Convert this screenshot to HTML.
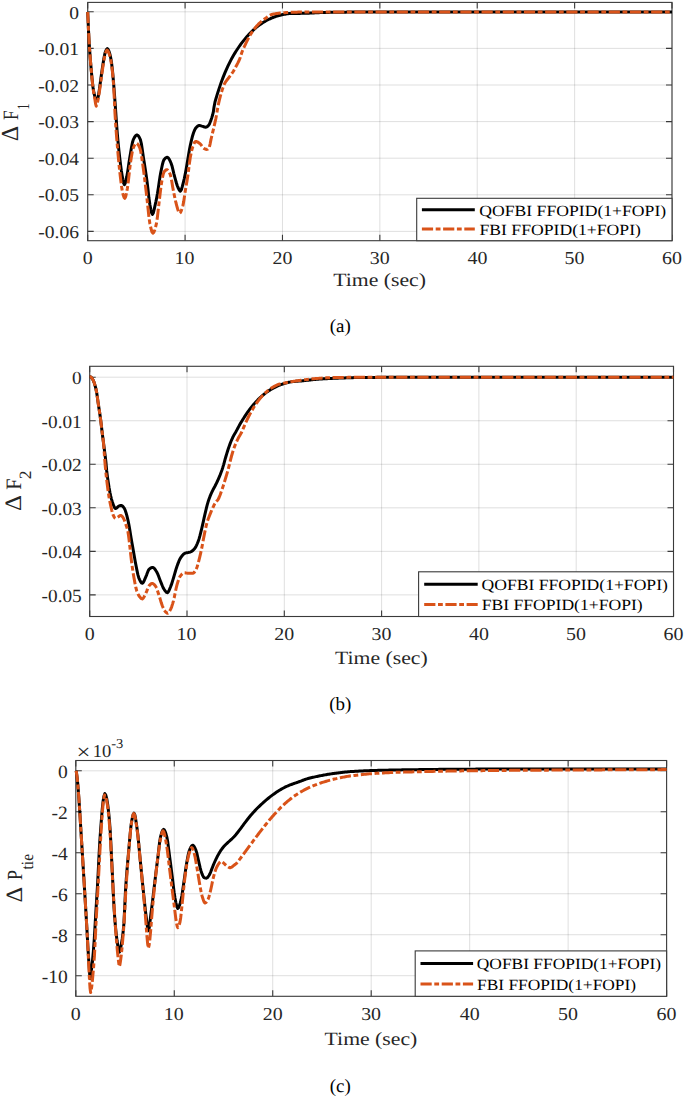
<!DOCTYPE html><html><head><meta charset="utf-8"><style>html,body{margin:0;padding:0;background:#fff;overflow:hidden;width:685px;height:1098px;}svg{display:block;} text{font-family:"Liberation Serif",serif;text-rendering:geometricPrecision;}</style></head><body>
<svg width="685" height="1098" viewBox="0 0 685 1098" font-family='"Liberation Serif", serif'>
<rect width="685" height="1098" fill="#fff"/>
<clipPath id="ca"><rect x="87.7" y="2.4" width="584.3" height="238.29999999999998"/></clipPath>
<path d="M87.70,2.4V240.7 M185.08,2.4V240.7 M282.47,2.4V240.7 M379.85,2.4V240.7 M477.23,2.4V240.7 M574.62,2.4V240.7 M672.00,2.4V240.7" stroke="#262626" stroke-opacity="0.15" stroke-width="1" fill="none"/>
<path d="M87.7,11.80H672.0 M87.7,48.40H672.0 M87.7,85.00H672.0 M87.7,121.60H672.0 M87.7,158.20H672.0 M87.7,194.80H672.0 M87.7,231.40H672.0" stroke="#262626" stroke-opacity="0.15" stroke-width="1" fill="none"/>
<path d="M87.70,240.7v-6.0 M87.70,2.4v6.0 M185.08,240.7v-6.0 M185.08,2.4v6.0 M282.47,240.7v-6.0 M282.47,2.4v6.0 M379.85,240.7v-6.0 M379.85,2.4v6.0 M477.23,240.7v-6.0 M477.23,2.4v6.0 M574.62,240.7v-6.0 M574.62,2.4v6.0 M672.00,240.7v-6.0 M672.00,2.4v6.0 M87.7,11.80h6.0 M672.0,11.80h-6.0 M87.7,48.40h6.0 M672.0,48.40h-6.0 M87.7,85.00h6.0 M672.0,85.00h-6.0 M87.7,121.60h6.0 M672.0,121.60h-6.0 M87.7,158.20h6.0 M672.0,158.20h-6.0 M87.7,194.80h6.0 M672.0,194.80h-6.0 M87.7,231.40h6.0 M672.0,231.40h-6.0" stroke="#3a3a3a" stroke-width="1.1" fill="none"/>
<rect x="87.7" y="2.4" width="584.3" height="238.29999999999998" stroke="#3a3a3a" stroke-width="1.1" fill="none"/>
<g >
<path d="M87.70,12.00 L88.10,21.30 L88.50,30.10 L89.00,39.73 L89.50,48.10 L90.25,58.37 L91.00,67.20 L92.00,78.35 L93.00,87.20 L94.00,93.14 L95.00,97.20 L95.90,99.70 L96.80,100.90 L97.65,99.00 L98.50,95.20 L99.50,88.81 L100.50,81.20 L101.33,75.33 L102.17,69.50 L103.00,64.10 L104.00,57.81 L105.00,53.10 L105.77,50.94 L106.53,49.27 L107.30,48.60 L108.07,49.28 L108.83,50.97 L109.60,53.10 L110.60,57.14 L111.60,63.10 L112.60,71.95 L113.60,83.20 L114.60,96.05 L115.60,110.00 L116.45,122.27 L117.30,133.70 L118.10,142.49 L118.90,150.32 L119.70,157.40 L120.50,164.09 L121.30,170.21 L122.10,175.20 L122.87,179.47 L123.63,183.14 L124.40,184.70 L125.20,183.33 L126.00,180.13 L126.80,176.40 L127.55,172.36 L128.30,167.36 L129.05,162.13 L129.80,157.40 L130.68,152.17 L131.55,146.92 L132.43,142.46 L133.30,139.60 L134.20,137.84 L135.10,136.38 L136.00,135.37 L136.90,135.00 L137.78,135.36 L138.65,136.34 L139.53,137.80 L140.40,139.60 L141.40,143.80 L142.40,150.50 L143.40,157.40 L144.30,163.02 L145.20,168.76 L146.10,174.74 L147.00,181.10 L147.97,189.30 L148.93,198.06 L149.90,204.80 L150.77,209.23 L151.63,212.88 L152.50,214.40 L153.40,212.75 L154.30,208.96 L155.20,204.80 L155.97,201.35 L156.73,197.47 L157.50,193.30 L158.30,188.32 L159.10,182.78 L159.90,177.37 L160.70,172.80 L161.52,168.67 L162.35,164.75 L163.18,161.58 L164.00,159.70 L164.82,158.72 L165.65,157.93 L166.48,157.39 L167.30,157.20 L168.23,157.72 L169.15,159.08 L170.07,160.94 L171.00,163.00 L171.93,165.72 L172.85,169.37 L173.77,173.31 L174.70,176.90 L175.52,179.84 L176.35,182.78 L177.18,185.43 L178.00,187.50 L178.80,189.19 L179.60,190.60 L180.40,191.20 L181.37,189.75 L182.33,186.39 L183.30,182.60 L184.23,178.79 L185.17,174.34 L186.10,169.50 L186.90,164.85 L187.70,160.00 L188.57,154.85 L189.43,149.79 L190.30,145.30 L191.30,140.80 L192.30,136.78 L193.30,133.50 L194.10,131.30 L194.90,129.41 L195.70,128.10 L196.57,127.13 L197.45,126.30 L198.32,125.72 L199.20,125.50 L200.10,125.60 L201.00,125.83 L201.90,126.13 L202.80,126.40 L203.77,126.72 L204.73,127.05 L205.70,127.20 L206.70,126.92 L207.70,126.19 L208.70,125.20 L209.47,123.94 L210.23,122.03 L211.00,119.90 L211.80,117.63 L212.60,114.99 L213.40,111.60 L213.95,107.49 L215.00,101.94 L216.00,98.48 L217.00,95.14 L218.00,91.93 L219.00,88.84 L220.00,85.87 L221.00,83.01 L222.00,80.27 L223.00,77.63 L224.00,75.09 L225.00,72.65 L226.00,70.31 L227.00,68.06 L228.00,65.89 L229.00,63.81 L230.00,61.81 L231.00,59.89 L232.00,58.03 L233.00,56.25 L234.00,54.53 L235.00,52.87 L236.00,51.26 L237.00,49.71 L238.00,48.21 L239.00,46.76 L240.00,45.34 L241.00,43.96 L242.00,42.63 L243.00,41.33 L244.00,40.07 L245.00,38.85 L246.00,37.66 L247.00,36.51 L248.00,35.39 L249.00,34.31 L250.00,33.27 L251.00,32.26 L252.00,31.28 L253.00,30.34 L254.00,29.42 L255.00,28.54 L256.00,27.69 L257.00,26.88 L258.00,26.09 L259.00,25.33 L260.00,24.60 L261.00,23.90 L262.00,23.22 L263.00,22.58 L264.00,21.96 L265.00,21.37 L266.00,20.80 L267.00,20.26 L268.00,19.74 L269.00,19.25 L270.00,18.78 L271.00,18.33 L272.00,17.91 L273.00,17.51 L274.00,17.13 L275.00,16.77 L276.00,16.43 L277.00,16.11 L278.00,15.81 L279.00,15.52 L280.00,15.26 L281.00,15.02 L282.00,14.79 L283.00,14.57 L284.00,14.38 L285.00,14.20 L286.00,14.03 L287.00,13.88 L288.00,13.74 L289.00,13.61 L290.00,13.50 L291.00,13.49 L292.00,13.48 L293.00,13.46 L294.00,13.45 L295.00,13.44 L296.00,13.43 L297.00,13.42 L298.00,13.41 L299.00,13.40 L300.00,13.38 L301.00,13.37 L302.00,13.35 L303.00,13.34 L304.00,13.32 L305.00,13.30 L306.00,13.27 L307.00,13.24 L308.00,13.20 L309.00,13.15 L310.00,13.10 L311.00,13.05 L312.00,12.99 L313.00,12.94 L314.00,12.88 L315.00,12.82 L316.00,12.77 L317.00,12.72 L318.00,12.67 L319.00,12.63 L320.00,12.60 L321.00,12.57 L322.00,12.54 L323.00,12.52 L324.00,12.49 L325.00,12.47 L326.00,12.44 L327.00,12.42 L328.00,12.40 L329.00,12.38 L330.00,12.36 L331.00,12.34 L332.00,12.32 L333.00,12.30 L334.00,12.29 L335.00,12.27 L336.00,12.25 L337.00,12.24 L338.00,12.23 L339.00,12.21 L340.00,12.20 L341.00,12.19 L342.00,12.18 L343.00,12.16 L344.00,12.15 L345.00,12.14 L346.00,12.13 L347.00,12.12 L348.00,12.11 L349.00,12.10 L350.00,12.09 L351.00,12.08 L352.00,12.07 L353.00,12.06 L354.00,12.05 L355.00,12.04 L356.00,12.03 L357.00,12.02 L358.00,12.01 L359.00,12.00 L360.00,12.00 L361.00,11.99 L362.00,11.98 L363.00,11.98 L364.00,11.97 L365.00,11.97 L366.00,11.96 L367.00,11.96 L368.00,11.96 L369.00,11.95 L370.00,11.95 L371.00,11.95 L372.00,11.95 L373.00,11.94 L374.00,11.94 L375.00,11.94 L376.00,11.94 L377.00,11.94 L378.00,11.94 L379.00,11.93 L380.00,11.93 L381.00,11.93 L382.00,11.93 L383.00,11.93 L384.00,11.93 L385.00,11.93 L386.00,11.92 L387.00,11.92 L388.00,11.92 L389.00,11.92 L390.00,11.92 L391.00,11.92 L392.00,11.92 L393.00,11.92 L394.00,11.91 L395.00,11.91 L396.00,11.91 L397.00,11.91 L398.00,11.91 L399.00,11.91 L400.00,11.91 L401.00,11.91 L402.00,11.91 L403.00,11.91 L404.00,11.91 L405.00,11.90 L406.00,11.90 L407.00,11.90 L408.00,11.90 L409.00,11.90 L410.00,11.90 L411.00,11.90 L412.00,11.90 L413.00,11.90 L414.00,11.90 L415.00,11.90 L416.00,11.90 L417.00,11.90 L418.00,11.90 L419.00,11.90 L420.00,11.90 L421.00,11.90 L422.00,11.90 L423.00,11.90 L424.00,11.90 L425.00,11.90 L426.00,11.90 L427.00,11.90 L428.00,11.90 L429.00,11.90 L430.00,11.90 L431.00,11.90 L432.00,11.90 L433.00,11.90 L434.00,11.90 L435.00,11.90 L436.00,11.90 L437.00,11.90 L438.00,11.90 L439.00,11.90 L440.00,11.90 L441.00,11.90 L442.00,11.90 L443.00,11.90 L444.00,11.90 L445.00,11.90 L446.00,11.90 L447.00,11.90 L448.00,11.90 L449.00,11.90 L450.00,11.90 L451.00,11.90 L452.00,11.90 L453.00,11.90 L454.00,11.90 L455.00,11.90 L456.00,11.90 L457.00,11.90 L458.00,11.90 L459.00,11.90 L460.00,11.90 L461.00,11.90 L462.00,11.90 L463.00,11.90 L464.00,11.90 L465.00,11.90 L466.00,11.90 L467.00,11.90 L468.00,11.90 L469.00,11.90 L470.00,11.90 L471.00,11.90 L472.00,11.90 L473.00,11.90 L474.00,11.90 L475.00,11.90 L476.00,11.90 L477.00,11.90 L478.00,11.90 L479.00,11.90 L480.00,11.90 L481.00,11.90 L482.00,11.90 L483.00,11.90 L484.00,11.90 L485.00,11.90 L486.00,11.90 L487.00,11.90 L488.00,11.90 L489.00,11.90 L490.00,11.90 L491.00,11.90 L492.00,11.90 L493.00,11.90 L494.00,11.90 L495.00,11.90 L496.00,11.90 L497.00,11.90 L498.00,11.90 L499.00,11.90 L500.00,11.90 L501.00,11.90 L502.00,11.90 L503.00,11.90 L504.00,11.90 L505.00,11.90 L506.00,11.90 L507.00,11.90 L508.00,11.90 L509.00,11.90 L510.00,11.90 L511.00,11.90 L512.00,11.90 L513.00,11.90 L514.00,11.90 L515.00,11.90 L516.00,11.90 L517.00,11.90 L518.00,11.90 L519.00,11.90 L520.00,11.90 L521.00,11.90 L522.00,11.90 L523.00,11.90 L524.00,11.90 L525.00,11.90 L526.00,11.90 L527.00,11.90 L528.00,11.90 L529.00,11.90 L530.00,11.90 L531.00,11.90 L532.00,11.90 L533.00,11.90 L534.00,11.90 L535.00,11.90 L536.00,11.90 L537.00,11.90 L538.00,11.90 L539.00,11.90 L540.00,11.90 L541.00,11.90 L542.00,11.90 L543.00,11.90 L544.00,11.90 L545.00,11.90 L546.00,11.90 L547.00,11.90 L548.00,11.90 L549.00,11.90 L550.00,11.90 L551.00,11.90 L552.00,11.90 L553.00,11.90 L554.00,11.90 L555.00,11.90 L556.00,11.90 L557.00,11.90 L558.00,11.90 L559.00,11.90 L560.00,11.90 L561.00,11.90 L562.00,11.90 L563.00,11.90 L564.00,11.90 L565.00,11.90 L566.00,11.90 L567.00,11.90 L568.00,11.90 L569.00,11.90 L570.00,11.90 L571.00,11.90 L572.00,11.90 L573.00,11.90 L574.00,11.90 L575.00,11.90 L576.00,11.90 L577.00,11.90 L578.00,11.90 L579.00,11.90 L580.00,11.90 L581.00,11.90 L582.00,11.90 L583.00,11.90 L584.00,11.90 L585.00,11.90 L586.00,11.90 L587.00,11.90 L588.00,11.90 L589.00,11.90 L590.00,11.90 L591.00,11.90 L592.00,11.90 L593.00,11.90 L594.00,11.90 L595.00,11.90 L596.00,11.90 L597.00,11.90 L598.00,11.90 L599.00,11.90 L600.00,11.90 L601.00,11.90 L602.00,11.90 L603.00,11.90 L604.00,11.90 L605.00,11.90 L606.00,11.90 L607.00,11.90 L608.00,11.90 L609.00,11.90 L610.00,11.90 L611.00,11.90 L612.00,11.90 L613.00,11.90 L614.00,11.90 L615.00,11.90 L616.00,11.90 L617.00,11.90 L618.00,11.90 L619.00,11.90 L620.00,11.90 L621.00,11.90 L622.00,11.90 L623.00,11.90 L624.00,11.90 L625.00,11.90 L626.00,11.90 L627.00,11.90 L628.00,11.90 L629.00,11.90 L630.00,11.90 L631.00,11.90 L632.00,11.90 L633.00,11.90 L634.00,11.90 L635.00,11.90 L636.00,11.90 L637.00,11.90 L638.00,11.90 L639.00,11.90 L640.00,11.90 L641.00,11.90 L642.00,11.90 L643.00,11.90 L644.00,11.90 L645.00,11.90 L646.00,11.90 L647.00,11.90 L648.00,11.90 L649.00,11.90 L650.00,11.90 L651.00,11.90 L652.00,11.90 L653.00,11.90 L654.00,11.90 L655.00,11.90 L656.00,11.90 L657.00,11.90 L658.00,11.90 L659.00,11.90 L660.00,11.90 L661.00,11.90 L662.00,11.90 L663.00,11.90 L664.00,11.90 L665.00,11.90 L666.00,11.90 L667.00,11.90 L668.00,11.90 L669.00,11.90 L670.00,11.90 L671.00,11.90 L672.00,11.90" stroke="#000" stroke-width="3.0" fill="none" stroke-linejoin="round"/>
<path d="M87.70,12.00 L88.10,21.30 L88.50,30.10 L89.00,39.73 L89.50,48.10 L90.25,58.32 L91.00,67.20 L92.00,78.57 L93.00,88.00 L94.00,94.52 L95.00,100.00 L95.60,103.93 L96.20,106.20 L97.10,104.09 L98.00,100.00 L98.83,95.47 L99.67,89.84 L100.50,84.00 L101.33,77.97 L102.17,71.71 L103.00,66.00 L104.00,59.78 L105.00,55.00 L105.70,52.67 L106.40,50.78 L107.10,50.00 L107.93,50.76 L108.77,52.63 L109.60,55.00 L110.60,59.06 L111.60,65.00 L112.60,73.24 L113.60,85.00 L114.30,98.76 L115.00,113.60 L115.77,125.56 L116.53,136.03 L117.30,145.50 L118.30,156.97 L119.30,167.38 L120.30,176.40 L121.10,182.97 L121.90,188.84 L122.70,193.00 L123.40,195.55 L124.10,197.58 L124.80,198.40 L125.67,196.77 L126.53,192.88 L127.40,188.20 L128.40,180.83 L129.40,171.46 L130.40,163.30 L131.37,157.05 L132.33,151.55 L133.30,147.90 L134.30,145.60 L135.30,143.88 L136.30,143.20 L137.18,143.58 L138.05,144.60 L138.93,146.09 L139.80,147.90 L140.70,151.17 L141.60,156.43 L142.50,162.75 L143.40,169.20 L144.30,175.91 L145.20,183.37 L146.10,191.17 L147.00,198.90 L147.97,207.94 L148.93,217.08 L149.90,223.70 L150.90,228.22 L151.90,231.77 L152.90,233.20 L153.78,232.39 L154.65,230.26 L155.53,227.22 L156.40,223.70 L157.30,218.08 L158.20,210.18 L159.10,202.30 L159.93,195.31 L160.77,188.34 L161.60,182.60 L162.40,178.09 L163.20,174.23 L164.00,172.00 L164.97,170.81 L165.93,170.00 L166.90,169.70 L167.72,170.09 L168.55,171.13 L169.38,172.63 L170.20,174.40 L171.00,177.25 L171.80,181.58 L172.60,186.42 L173.40,190.80 L174.22,194.82 L175.05,198.81 L175.88,202.49 L176.70,205.60 L177.67,209.02 L178.63,212.02 L179.60,213.30 L180.43,212.63 L181.25,210.88 L182.07,208.41 L182.90,205.60 L183.70,201.60 L184.50,196.16 L185.30,190.80 L186.13,185.98 L186.97,181.25 L187.80,176.10 L188.60,170.05 L189.40,163.50 L190.20,158.00 L191.03,153.58 L191.87,149.80 L192.70,147.00 L193.70,144.37 L194.70,142.26 L195.70,141.40 L196.52,141.52 L197.34,141.86 L198.16,142.34 L198.98,142.91 L199.80,143.50 L200.62,144.30 L201.44,145.40 L202.26,146.57 L203.08,147.61 L203.90,148.30 L204.90,148.83 L205.90,149.24 L206.90,149.40 L207.70,149.10 L208.50,148.28 L209.30,147.10 L210.15,143.83 L211.00,139.40 L211.80,135.99 L212.60,132.67 L213.40,129.30 L214.20,125.89 L215.00,122.42 L215.80,118.70 L216.70,113.83 L217.60,108.60 L218.50,103.90 L219.47,99.67 L220.43,95.87 L221.40,92.50 L222.22,89.86 L223.05,87.38 L223.88,85.19 L224.70,83.40 L225.52,82.01 L226.34,80.84 L227.16,79.79 L227.98,78.78 L228.80,77.70 L229.62,76.59 L230.44,75.50 L231.26,74.39 L232.08,73.24 L232.90,72.00 L233.70,70.66 L234.50,69.22 L235.30,67.72 L236.10,66.20 L236.93,64.68 L237.75,63.16 L238.57,61.53 L239.40,59.70 L240.23,57.39 L241.07,54.76 L241.90,52.30 L242.60,50.47 L243.30,48.75 L244.20,46.86 L245.20,44.82 L246.20,42.72 L247.20,40.64 L248.20,38.67 L249.20,36.81 L250.20,35.07 L251.20,33.43 L252.20,31.89 L253.20,30.44 L254.20,29.09 L255.20,27.81 L256.20,26.61 L257.20,25.49 L258.20,24.43 L259.20,23.43 L260.20,22.49 L261.20,21.59 L262.20,20.75 L263.20,19.95 L264.20,19.20 L266.00,17.96 L266.95,17.34 L267.90,16.67 L268.85,15.99 L269.80,15.37 L270.75,14.85 L271.70,14.50 L272.63,14.26 L273.56,14.05 L274.49,13.86 L275.42,13.69 L276.35,13.54 L277.28,13.41 L278.21,13.29 L279.14,13.18 L280.07,13.09 L281.00,13.00 L282.00,12.92 L283.00,12.83 L284.00,12.76 L285.00,12.69 L286.00,12.62 L287.00,12.56 L288.00,12.50 L289.00,12.44 L290.00,12.39 L291.00,12.35 L292.00,12.30 L293.00,12.27 L294.00,12.23 L295.00,12.20 L296.00,12.17 L297.00,12.15 L298.00,12.12 L299.00,12.10 L300.00,12.08 L301.00,12.06 L302.00,12.04 L303.00,12.02 L304.00,12.01 L305.00,12.00 L306.00,11.99 L307.00,11.98 L308.00,11.97 L309.00,11.96 L310.00,11.95 L311.00,11.94 L312.00,11.93 L313.00,11.93 L314.00,11.92 L315.00,11.91 L316.00,11.91 L317.00,11.91 L318.00,11.90 L319.00,11.90 L320.00,11.90 L321.00,11.90 L322.00,11.90 L323.00,11.90 L324.00,11.90 L325.00,11.90 L326.00,11.90 L327.00,11.90 L328.00,11.90 L329.00,11.90 L330.00,11.90 L331.00,11.90 L332.00,11.90 L333.00,11.90 L334.00,11.90 L335.00,11.90 L336.00,11.90 L337.00,11.90 L338.00,11.90 L339.00,11.90 L340.00,11.90 L341.00,11.90 L342.00,11.90 L343.00,11.90 L344.00,11.90 L345.00,11.90 L346.00,11.90 L347.00,11.90 L348.00,11.90 L349.00,11.90 L350.00,11.90 L351.00,11.90 L352.00,11.90 L353.00,11.90 L354.00,11.90 L355.00,11.90 L356.00,11.90 L357.00,11.90 L358.00,11.90 L359.00,11.90 L360.00,11.90 L361.00,11.90 L362.00,11.90 L363.00,11.90 L364.00,11.90 L365.00,11.90 L366.00,11.90 L367.00,11.90 L368.00,11.90 L369.00,11.90 L370.00,11.90 L371.00,11.90 L372.00,11.90 L373.00,11.90 L374.00,11.90 L375.00,11.90 L376.00,11.90 L377.00,11.90 L378.00,11.90 L379.00,11.90 L380.00,11.90 L381.00,11.90 L382.00,11.90 L383.00,11.90 L384.00,11.90 L385.00,11.90 L386.00,11.90 L387.00,11.90 L388.00,11.90 L389.00,11.90 L390.00,11.90 L391.00,11.90 L392.00,11.90 L393.00,11.90 L394.00,11.90 L395.00,11.90 L396.00,11.90 L397.00,11.90 L398.00,11.90 L399.00,11.90 L400.00,11.90 L401.00,11.90 L402.00,11.90 L403.00,11.90 L404.00,11.90 L405.00,11.90 L406.00,11.90 L407.00,11.90 L408.00,11.90 L409.00,11.90 L410.00,11.90 L411.00,11.90 L412.00,11.90 L413.00,11.90 L414.00,11.90 L415.00,11.90 L416.00,11.90 L417.00,11.90 L418.00,11.90 L419.00,11.90 L420.00,11.90 L421.00,11.90 L422.00,11.90 L423.00,11.90 L424.00,11.90 L425.00,11.90 L426.00,11.90 L427.00,11.90 L428.00,11.90 L429.00,11.90 L430.00,11.90 L431.00,11.90 L432.00,11.90 L433.00,11.90 L434.00,11.90 L435.00,11.90 L436.00,11.90 L437.00,11.90 L438.00,11.90 L439.00,11.90 L440.00,11.90 L441.00,11.90 L442.00,11.90 L443.00,11.90 L444.00,11.90 L445.00,11.90 L446.00,11.90 L447.00,11.90 L448.00,11.90 L449.00,11.90 L450.00,11.90 L451.00,11.90 L452.00,11.90 L453.00,11.90 L454.00,11.90 L455.00,11.90 L456.00,11.90 L457.00,11.90 L458.00,11.90 L459.00,11.90 L460.00,11.90 L461.00,11.90 L462.00,11.90 L463.00,11.90 L464.00,11.90 L465.00,11.90 L466.00,11.90 L467.00,11.90 L468.00,11.90 L469.00,11.90 L470.00,11.90 L471.00,11.90 L472.00,11.90 L473.00,11.90 L474.00,11.90 L475.00,11.90 L476.00,11.90 L477.00,11.90 L478.00,11.90 L479.00,11.90 L480.00,11.90 L481.00,11.90 L482.00,11.90 L483.00,11.90 L484.00,11.90 L485.00,11.90 L486.00,11.90 L487.00,11.90 L488.00,11.90 L489.00,11.90 L490.00,11.90 L491.00,11.90 L492.00,11.90 L493.00,11.90 L494.00,11.90 L495.00,11.90 L496.00,11.90 L497.00,11.90 L498.00,11.90 L499.00,11.90 L500.00,11.90 L501.00,11.90 L502.00,11.90 L503.00,11.90 L504.00,11.90 L505.00,11.90 L506.00,11.90 L507.00,11.90 L508.00,11.90 L509.00,11.90 L510.00,11.90 L511.00,11.90 L512.00,11.90 L513.00,11.90 L514.00,11.90 L515.00,11.90 L516.00,11.90 L517.00,11.90 L518.00,11.90 L519.00,11.90 L520.00,11.90 L521.00,11.90 L522.00,11.90 L523.00,11.90 L524.00,11.90 L525.00,11.90 L526.00,11.90 L527.00,11.90 L528.00,11.90 L529.00,11.90 L530.00,11.90 L531.00,11.90 L532.00,11.90 L533.00,11.90 L534.00,11.90 L535.00,11.90 L536.00,11.90 L537.00,11.90 L538.00,11.90 L539.00,11.90 L540.00,11.90 L541.00,11.90 L542.00,11.90 L543.00,11.90 L544.00,11.90 L545.00,11.90 L546.00,11.90 L547.00,11.90 L548.00,11.90 L549.00,11.90 L550.00,11.90 L551.00,11.90 L552.00,11.90 L553.00,11.90 L554.00,11.90 L555.00,11.90 L556.00,11.90 L557.00,11.90 L558.00,11.90 L559.00,11.90 L560.00,11.90 L561.00,11.90 L562.00,11.90 L563.00,11.90 L564.00,11.90 L565.00,11.90 L566.00,11.90 L567.00,11.90 L568.00,11.90 L569.00,11.90 L570.00,11.90 L571.00,11.90 L572.00,11.90 L573.00,11.90 L574.00,11.90 L575.00,11.90 L576.00,11.90 L577.00,11.90 L578.00,11.90 L579.00,11.90 L580.00,11.90 L581.00,11.90 L582.00,11.90 L583.00,11.90 L584.00,11.90 L585.00,11.90 L586.00,11.90 L587.00,11.90 L588.00,11.90 L589.00,11.90 L590.00,11.90 L591.00,11.90 L592.00,11.90 L593.00,11.90 L594.00,11.90 L595.00,11.90 L596.00,11.90 L597.00,11.90 L598.00,11.90 L599.00,11.90 L600.00,11.90 L601.00,11.90 L602.00,11.90 L603.00,11.90 L604.00,11.90 L605.00,11.90 L606.00,11.90 L607.00,11.90 L608.00,11.90 L609.00,11.90 L610.00,11.90 L611.00,11.90 L612.00,11.90 L613.00,11.90 L614.00,11.90 L615.00,11.90 L616.00,11.90 L617.00,11.90 L618.00,11.90 L619.00,11.90 L620.00,11.90 L621.00,11.90 L622.00,11.90 L623.00,11.90 L624.00,11.90 L625.00,11.90 L626.00,11.90 L627.00,11.90 L628.00,11.90 L629.00,11.90 L630.00,11.90 L631.00,11.90 L632.00,11.90 L633.00,11.90 L634.00,11.90 L635.00,11.90 L636.00,11.90 L637.00,11.90 L638.00,11.90 L639.00,11.90 L640.00,11.90 L641.00,11.90 L642.00,11.90 L643.00,11.90 L644.00,11.90 L645.00,11.90 L646.00,11.90 L647.00,11.90 L648.00,11.90 L649.00,11.90 L650.00,11.90 L651.00,11.90 L652.00,11.90 L653.00,11.90 L654.00,11.90 L655.00,11.90 L656.00,11.90 L657.00,11.90 L658.00,11.90 L659.00,11.90 L660.00,11.90 L661.00,11.90 L662.00,11.90 L663.00,11.90 L664.00,11.90 L665.00,11.90 L666.00,11.90 L667.00,11.90 L668.00,11.90 L669.00,11.90 L670.00,11.90 L671.00,11.90 L672.00,11.90" stroke="#D95319" stroke-width="3.0" fill="none" stroke-dasharray="11.2 2.6 4.8 2.6" stroke-linejoin="round"/>
</g>
<text transform="translate(69.23,18.50) scale(1.0850,1.0000)" font-size="18.0" fill="#262626">0</text>
<text transform="translate(38.32,55.05) scale(1.0850,1.0000)" font-size="18.0" fill="#262626">-0.01</text>
<text transform="translate(38.32,91.65) scale(1.0850,1.0000)" font-size="18.0" fill="#262626">-0.02</text>
<text transform="translate(38.32,128.25) scale(1.0850,1.0000)" font-size="18.0" fill="#262626">-0.03</text>
<text transform="translate(38.32,164.85) scale(1.0850,1.0000)" font-size="18.0" fill="#262626">-0.04</text>
<text transform="translate(38.32,201.45) scale(1.0850,1.0000)" font-size="18.0" fill="#262626">-0.05</text>
<text transform="translate(38.32,238.05) scale(1.0850,1.0000)" font-size="18.0" fill="#262626">-0.06</text>
<text transform="translate(82.71,264.07) scale(1.0900,1.0000)" font-size="18.3" fill="#262626">0</text>
<text transform="translate(174.61,264.07) scale(1.0900,1.0000)" font-size="18.3" fill="#262626">10</text>
<text transform="translate(272.44,264.07) scale(1.0900,1.0000)" font-size="18.3" fill="#262626">20</text>
<text transform="translate(369.78,264.07) scale(1.0900,1.0000)" font-size="18.3" fill="#262626">30</text>
<text transform="translate(467.43,264.07) scale(1.0900,1.0000)" font-size="18.3" fill="#262626">40</text>
<text transform="translate(564.44,264.07) scale(1.0900,1.0000)" font-size="18.3" fill="#262626">50</text>
<text transform="translate(661.98,264.07) scale(1.0900,1.0000)" font-size="18.3" fill="#262626">60</text>
<text transform="translate(333.25,286.37) scale(1.1560,1.0000)" font-size="18.8" fill="#262626">Time (sec)</text>
<rect x="416.7" y="198.3" width="255.3" height="42.39999999999998" fill="#fff" stroke="#3a3a3a" stroke-width="1.1"/>
<path d="M421.9,209.8H474.8" stroke="#000" stroke-width="3.0"/>
<path d="M421.9,228.9H474.8" stroke="#D95319" stroke-width="3.0" stroke-dasharray="11.2 2.6 4.8 2.6"/>
<text transform="translate(479.29,215.60) scale(1.1310,1.0000)" font-size="15.6" fill="#000">QOFBI FFOPID(1+FOPI)</text>
<text transform="translate(479.51,234.70) scale(1.1310,1.0000)" font-size="15.6" fill="#000">FBI FFOPID(1+FOPI)</text>
<clipPath id="cb"><rect x="89.7" y="366.3" width="583.8" height="250.2"/></clipPath>
<path d="M89.70,366.3V616.5 M187.00,366.3V616.5 M284.30,366.3V616.5 M381.60,366.3V616.5 M478.90,366.3V616.5 M576.20,366.3V616.5 M673.50,366.3V616.5" stroke="#262626" stroke-opacity="0.15" stroke-width="1" fill="none"/>
<path d="M89.7,377.20H673.5 M89.7,420.74H673.5 M89.7,464.28H673.5 M89.7,507.82H673.5 M89.7,551.36H673.5 M89.7,594.90H673.5" stroke="#262626" stroke-opacity="0.15" stroke-width="1" fill="none"/>
<path d="M89.70,616.5v-6.0 M89.70,366.3v6.0 M187.00,616.5v-6.0 M187.00,366.3v6.0 M284.30,616.5v-6.0 M284.30,366.3v6.0 M381.60,616.5v-6.0 M381.60,366.3v6.0 M478.90,616.5v-6.0 M478.90,366.3v6.0 M576.20,616.5v-6.0 M576.20,366.3v6.0 M673.50,616.5v-6.0 M673.50,366.3v6.0 M89.7,377.20h6.0 M673.5,377.20h-6.0 M89.7,420.74h6.0 M673.5,420.74h-6.0 M89.7,464.28h6.0 M673.5,464.28h-6.0 M89.7,507.82h6.0 M673.5,507.82h-6.0 M89.7,551.36h6.0 M673.5,551.36h-6.0 M89.7,594.90h6.0 M673.5,594.90h-6.0" stroke="#3a3a3a" stroke-width="1.1" fill="none"/>
<rect x="89.7" y="366.3" width="583.8" height="250.2" stroke="#3a3a3a" stroke-width="1.1" fill="none"/>
<g >
<path d="M89.70,376.80 L90.00,376.80 L90.30,376.80 L91.07,377.15 L91.83,378.02 L92.60,379.10 L93.33,380.47 L94.07,382.37 L94.80,384.60 L95.75,388.17 L96.70,392.80 L97.35,397.13 L98.00,401.90 L98.70,406.44 L99.40,411.00 L100.10,415.83 L100.80,421.00 L101.45,426.44 L102.10,432.00 L102.80,437.51 L103.50,442.90 L104.20,448.31 L104.90,453.80 L105.40,457.71 L105.90,462.00 L106.30,466.50 L106.70,470.90 L107.45,476.85 L108.20,481.90 L109.10,487.76 L110.00,492.80 L110.73,496.16 L111.47,499.10 L112.20,501.50 L113.03,503.93 L113.85,506.22 L114.67,507.93 L115.50,508.60 L116.40,508.23 L117.30,507.38 L118.20,506.46 L119.10,505.90 L119.83,505.71 L120.57,505.56 L121.30,505.50 L122.27,505.88 L123.23,506.84 L124.20,508.10 L125.07,509.85 L125.93,512.43 L126.80,515.40 L127.53,518.29 L128.27,521.69 L129.00,525.40 L129.70,529.37 L130.40,533.73 L131.10,538.00 L131.97,542.98 L132.83,547.86 L133.70,552.70 L134.53,557.45 L135.37,562.15 L136.20,566.50 L137.07,570.85 L137.93,574.90 L138.80,577.80 L139.68,579.82 L140.55,581.58 L141.43,582.83 L142.30,583.30 L143.18,582.63 L144.05,580.99 L144.93,578.90 L145.80,576.90 L146.65,574.84 L147.50,572.48 L148.35,570.38 L149.20,569.10 L150.07,568.44 L150.95,567.90 L151.82,567.53 L152.70,567.40 L153.67,567.79 L154.65,568.81 L155.62,570.20 L156.60,571.70 L157.57,573.59 L158.55,576.04 L159.53,578.70 L160.50,581.20 L161.35,583.32 L162.20,585.49 L163.05,587.46 L163.90,589.00 L164.78,590.29 L165.65,591.48 L166.53,592.36 L167.40,592.70 L168.18,592.14 L168.95,590.74 L169.72,588.89 L170.50,587.00 L171.30,584.91 L172.10,582.46 L172.90,579.82 L173.70,577.20 L174.52,574.42 L175.35,571.51 L176.18,568.69 L177.00,566.20 L177.95,563.63 L178.90,561.22 L179.85,559.12 L180.80,557.50 L181.68,556.30 L182.56,555.21 L183.44,554.27 L184.32,553.55 L185.20,553.10 L186.18,552.83 L187.16,552.66 L188.14,552.52 L189.12,552.35 L190.10,552.10 L190.98,551.73 L191.86,551.20 L192.74,550.53 L193.62,549.72 L194.50,548.80 L195.45,547.47 L196.40,545.67 L197.35,543.51 L198.30,541.10 L199.12,538.63 L199.95,535.67 L200.78,532.43 L201.60,529.10 L202.40,525.71 L203.20,522.08 L204.00,518.41 L204.80,514.90 L205.62,511.39 L206.45,507.92 L207.28,504.66 L208.10,501.80 L209.05,498.98 L210.00,496.44 L210.95,494.13 L211.90,492.00 L212.87,490.07 L213.83,488.32 L214.80,486.50 L215.66,484.78 L216.52,483.05 L217.38,481.25 L218.24,479.38 L219.10,477.40 L220.03,475.13 L220.95,472.72 L221.88,470.15 L222.80,467.40 L223.58,464.84 L224.35,462.05 L225.12,459.21 L225.90,456.50 L226.70,453.84 L227.50,451.23 L228.30,448.73 L229.10,446.40 L230.03,443.89 L230.95,441.52 L231.88,439.32 L232.80,437.30 L233.70,435.57 L234.60,434.02 L235.50,432.50 L236.80,430.10 L237.80,428.21 L238.80,426.38 L239.80,424.59 L240.80,422.85 L241.80,421.16 L242.80,419.52 L243.80,417.92 L244.80,416.36 L245.80,414.85 L246.80,413.38 L247.80,411.96 L248.80,410.58 L249.80,409.23 L250.80,407.93 L251.80,406.67 L252.80,405.45 L253.80,404.27 L254.80,403.13 L255.80,402.02 L256.80,400.96 L257.80,399.92 L258.80,398.93 L259.80,397.96 L260.80,397.04 L261.80,396.14 L262.80,395.28 L263.80,394.45 L264.80,393.66 L265.80,392.89 L266.80,392.16 L267.80,391.45 L268.80,390.77 L269.80,390.13 L270.80,389.50 L271.80,388.91 L272.80,388.34 L273.80,387.80 L274.80,387.29 L275.80,386.79 L276.80,386.33 L277.80,385.88 L278.80,385.46 L279.80,385.06 L280.80,384.68 L281.80,384.32 L282.80,383.98 L283.80,383.66 L284.80,383.36 L285.80,383.07 L286.80,382.81 L287.80,382.56 L288.80,382.32 L289.80,382.10 L290.80,381.90 L292.00,381.67 L292.96,381.59 L293.93,381.52 L294.89,381.44 L295.85,381.36 L296.82,381.29 L297.78,381.21 L298.75,381.13 L299.71,381.05 L300.67,380.97 L301.64,380.89 L302.60,380.80 L303.58,380.70 L304.57,380.60 L305.55,380.49 L306.54,380.37 L307.52,380.26 L308.51,380.14 L309.49,380.02 L310.48,379.90 L311.46,379.79 L312.45,379.68 L313.43,379.58 L314.42,379.48 L315.40,379.40 L316.37,379.32 L317.35,379.25 L318.32,379.18 L319.29,379.11 L320.27,379.05 L321.24,378.98 L322.21,378.92 L323.19,378.86 L324.16,378.81 L325.13,378.75 L326.11,378.70 L327.08,378.65 L328.05,378.60 L329.03,378.55 L330.00,378.50 L331.00,378.45 L332.00,378.41 L333.00,378.36 L334.00,378.32 L335.00,378.27 L336.00,378.23 L337.00,378.19 L338.00,378.15 L339.00,378.11 L340.00,378.07 L341.00,378.04 L342.00,378.00 L343.00,377.97 L344.00,377.93 L345.00,377.90 L346.00,377.87 L347.00,377.83 L348.00,377.80 L349.00,377.77 L350.00,377.74 L351.00,377.70 L352.00,377.67 L353.00,377.64 L354.00,377.62 L355.00,377.59 L356.00,377.57 L357.00,377.54 L358.00,377.53 L359.00,377.51 L360.00,377.50 L361.00,377.49 L362.00,377.48 L363.00,377.47 L364.00,377.46 L365.00,377.46 L366.00,377.45 L367.00,377.44 L368.00,377.43 L369.00,377.42 L370.00,377.42 L371.00,377.41 L372.00,377.40 L373.00,377.40 L374.00,377.39 L375.00,377.38 L376.00,377.38 L377.00,377.37 L378.00,377.37 L379.00,377.36 L380.00,377.36 L381.00,377.35 L382.00,377.35 L383.00,377.34 L384.00,377.34 L385.00,377.34 L386.00,377.33 L387.00,377.33 L388.00,377.32 L389.00,377.32 L390.00,377.32 L391.00,377.32 L392.00,377.31 L393.00,377.31 L394.00,377.31 L395.00,377.31 L396.00,377.31 L397.00,377.30 L398.00,377.30 L399.00,377.30 L400.00,377.30 L401.00,377.30 L402.00,377.30 L402.99,377.30 L403.99,377.30 L404.99,377.30 L405.99,377.29 L406.99,377.29 L407.99,377.29 L408.98,377.29 L409.98,377.29 L410.98,377.29 L411.98,377.29 L412.98,377.29 L413.97,377.29 L414.97,377.29 L415.97,377.29 L416.97,377.29 L417.97,377.29 L418.97,377.28 L419.96,377.28 L420.96,377.28 L421.96,377.28 L422.96,377.28 L423.96,377.28 L424.95,377.28 L425.95,377.28 L426.95,377.28 L427.95,377.28 L428.95,377.28 L429.95,377.28 L430.94,377.28 L431.94,377.28 L432.94,377.28 L433.94,377.27 L434.94,377.27 L435.93,377.27 L436.93,377.27 L437.93,377.27 L438.93,377.27 L439.93,377.27 L440.93,377.27 L441.92,377.27 L442.92,377.27 L443.92,377.27 L444.92,377.27 L445.92,377.27 L446.91,377.27 L447.91,377.27 L448.91,377.27 L449.91,377.27 L450.91,377.26 L451.91,377.26 L452.90,377.26 L453.90,377.26 L454.90,377.26 L455.90,377.26 L456.90,377.26 L457.89,377.26 L458.89,377.26 L459.89,377.26 L460.89,377.26 L461.89,377.26 L462.89,377.26 L463.88,377.26 L464.88,377.26 L465.88,377.26 L466.88,377.26 L467.88,377.26 L468.87,377.26 L469.87,377.26 L470.87,377.25 L471.87,377.25 L472.87,377.25 L473.86,377.25 L474.86,377.25 L475.86,377.25 L476.86,377.25 L477.86,377.25 L478.86,377.25 L479.85,377.25 L480.85,377.25 L481.85,377.25 L482.85,377.25 L483.85,377.25 L484.84,377.25 L485.84,377.25 L486.84,377.25 L487.84,377.25 L488.84,377.25 L489.84,377.25 L490.83,377.25 L491.83,377.25 L492.83,377.25 L493.83,377.25 L494.83,377.25 L495.82,377.24 L496.82,377.24 L497.82,377.24 L498.82,377.24 L499.82,377.24 L500.82,377.24 L501.81,377.24 L502.81,377.24 L503.81,377.24 L504.81,377.24 L505.81,377.24 L506.80,377.24 L507.80,377.24 L508.80,377.24 L509.80,377.24 L510.80,377.24 L511.80,377.24 L512.79,377.24 L513.79,377.24 L514.79,377.24 L515.79,377.24 L516.79,377.24 L517.78,377.24 L518.78,377.24 L519.78,377.24 L520.78,377.24 L521.78,377.24 L522.78,377.24 L523.77,377.24 L524.77,377.24 L525.77,377.24 L526.77,377.24 L527.77,377.24 L528.76,377.23 L529.76,377.23 L530.76,377.23 L531.76,377.23 L532.76,377.23 L533.76,377.23 L534.75,377.23 L535.75,377.23 L536.75,377.23 L537.75,377.23 L538.75,377.23 L539.74,377.23 L540.74,377.23 L541.74,377.23 L542.74,377.23 L543.74,377.23 L544.74,377.23 L545.73,377.23 L546.73,377.23 L547.73,377.23 L548.73,377.23 L549.73,377.23 L550.72,377.23 L551.72,377.23 L552.72,377.23 L553.72,377.23 L554.72,377.23 L555.72,377.23 L556.71,377.23 L557.71,377.23 L558.71,377.23 L559.71,377.23 L560.71,377.23 L561.70,377.23 L562.70,377.23 L563.70,377.23 L564.70,377.23 L565.70,377.23 L566.70,377.23 L567.69,377.23 L568.69,377.23 L569.69,377.23 L570.69,377.23 L571.69,377.23 L572.68,377.23 L573.68,377.22 L574.68,377.22 L575.68,377.22 L576.68,377.22 L577.68,377.22 L578.67,377.22 L579.67,377.22 L580.67,377.22 L581.67,377.22 L582.67,377.22 L583.66,377.22 L584.66,377.22 L585.66,377.22 L586.66,377.22 L587.66,377.22 L588.66,377.22 L589.65,377.22 L590.65,377.22 L591.65,377.22 L592.65,377.22 L593.65,377.22 L594.64,377.22 L595.64,377.22 L596.64,377.22 L597.64,377.22 L598.64,377.22 L599.64,377.22 L600.63,377.22 L601.63,377.22 L602.63,377.22 L603.63,377.22 L604.63,377.22 L605.62,377.22 L606.62,377.22 L607.62,377.22 L608.62,377.22 L609.62,377.22 L610.61,377.22 L611.61,377.22 L612.61,377.22 L613.61,377.22 L614.61,377.22 L615.61,377.22 L616.60,377.22 L617.60,377.22 L618.60,377.22 L619.60,377.22 L620.60,377.22 L621.59,377.21 L622.59,377.21 L623.59,377.21 L624.59,377.21 L625.59,377.21 L626.59,377.21 L627.58,377.21 L628.58,377.21 L629.58,377.21 L630.58,377.21 L631.58,377.21 L632.57,377.21 L633.57,377.21 L634.57,377.21 L635.57,377.21 L636.57,377.21 L637.57,377.21 L638.56,377.21 L639.56,377.21 L640.56,377.21 L641.56,377.21 L642.56,377.21 L643.55,377.21 L644.55,377.21 L645.55,377.21 L646.55,377.21 L647.55,377.21 L648.55,377.21 L649.54,377.21 L650.54,377.21 L651.54,377.21 L652.54,377.21 L653.54,377.21 L654.53,377.21 L655.53,377.21 L656.53,377.21 L657.53,377.21 L658.53,377.21 L659.53,377.20 L660.52,377.20 L661.52,377.20 L662.52,377.20 L663.52,377.20 L664.52,377.20 L665.51,377.20 L666.51,377.20 L667.51,377.20 L668.51,377.20 L669.51,377.20 L670.51,377.20 L671.50,377.20 L672.50,377.20 L673.50,377.20" stroke="#000" stroke-width="3.0" fill="none" stroke-linejoin="round"/>
<path d="M89.70,376.80 L90.00,376.80 L90.30,376.80 L91.07,377.15 L91.83,378.02 L92.60,379.10 L93.33,380.47 L94.07,382.37 L94.80,384.60 L95.75,388.17 L96.70,392.80 L97.35,397.13 L98.00,401.90 L98.70,406.44 L99.40,411.00 L100.10,415.83 L100.80,421.00 L101.45,426.44 L102.10,432.00 L102.80,437.11 L103.50,442.90 L104.05,450.09 L104.60,458.00 L105.15,464.79 L105.70,470.90 L106.40,477.47 L107.10,483.30 L108.00,490.31 L108.90,496.40 L109.63,500.51 L110.37,504.15 L111.10,507.40 L111.83,510.53 L112.57,513.38 L113.30,515.40 L114.03,516.78 L114.77,517.86 L115.50,518.30 L116.47,518.03 L117.43,517.44 L118.40,516.80 L119.13,516.25 L119.87,515.67 L120.60,515.40 L121.43,515.73 L122.27,516.55 L123.10,517.60 L123.97,519.23 L124.83,521.56 L125.70,524.10 L126.43,526.16 L127.17,528.44 L127.90,531.40 L128.50,535.23 L129.10,540.00 L129.90,546.95 L130.70,554.46 L131.50,561.30 L132.37,567.67 L133.23,573.47 L134.10,578.60 L134.97,583.30 L135.83,587.52 L136.70,590.70 L137.70,593.30 L138.70,595.34 L139.70,596.80 L140.57,597.79 L141.43,598.58 L142.30,598.90 L143.18,598.33 L144.05,596.92 L144.93,595.10 L145.80,593.30 L146.65,591.37 L147.50,589.12 L148.35,587.03 L149.20,585.60 L150.20,584.54 L151.20,583.73 L152.20,583.40 L153.07,583.65 L153.95,584.33 L154.82,585.29 L155.70,586.40 L156.57,588.04 L157.45,590.43 L158.32,593.18 L159.20,595.90 L160.20,599.15 L161.20,602.57 L162.20,605.50 L163.20,607.93 L164.20,610.06 L165.20,611.50 L166.07,612.32 L166.93,612.95 L167.80,613.20 L168.80,612.52 L169.80,610.88 L170.80,608.90 L171.67,606.81 L172.53,604.12 L173.40,601.10 L174.30,597.31 L175.20,592.84 L176.10,588.43 L177.00,584.80 L177.82,582.10 L178.65,579.63 L179.48,577.56 L180.30,576.10 L181.25,574.88 L182.20,573.82 L183.15,573.08 L184.10,572.80 L184.98,572.85 L185.86,572.98 L186.74,573.12 L187.62,573.25 L188.50,573.30 L189.36,573.30 L190.22,573.30 L191.08,573.30 L191.94,573.30 L192.80,573.30 L193.62,572.97 L194.45,572.11 L195.28,570.89 L196.10,569.50 L197.00,567.29 L197.90,564.18 L198.80,560.80 L199.73,557.14 L200.67,553.11 L201.60,548.80 L202.50,544.19 L203.40,539.26 L204.30,534.60 L205.20,530.24 L206.10,526.11 L207.00,522.60 L207.93,519.72 L208.87,517.25 L209.80,514.90 L210.60,512.88 L211.40,510.92 L212.20,509.06 L213.00,507.30 L213.83,505.54 L214.67,503.90 L215.50,502.50 L216.40,501.40 L217.30,500.47 L218.20,499.30 L219.10,497.55 L220.00,495.30 L220.90,492.78 L221.80,490.20 L222.60,487.85 L223.40,485.34 L224.20,482.73 L225.00,480.10 L225.80,477.47 L226.60,474.81 L227.40,472.06 L228.20,469.20 L229.00,466.09 L229.80,462.79 L230.60,459.52 L231.40,456.50 L232.20,453.73 L233.00,451.10 L233.80,448.64 L234.60,446.40 L235.50,444.14 L236.40,442.08 L237.30,440.15 L238.20,438.30 L239.02,436.78 L239.84,435.43 L240.66,434.09 L241.48,432.59 L242.80,429.52 L243.80,427.10 L244.80,424.77 L245.80,422.52 L246.80,420.35 L247.80,418.26 L248.80,416.25 L249.80,414.31 L250.80,412.45 L251.80,410.66 L252.80,408.94 L253.80,407.29 L254.80,405.71 L255.80,404.20 L256.80,402.75 L257.80,401.37 L258.80,400.05 L259.80,398.79 L260.80,397.59 L261.80,396.44 L262.80,395.35 L263.80,394.32 L264.80,393.34 L265.80,392.41 L266.80,391.53 L267.80,390.70 L268.80,389.91 L269.80,389.17 L270.80,388.47 L271.80,387.82 L272.80,387.20 L273.80,386.62 L274.80,386.08 L275.80,385.58 L276.80,385.11 L277.80,384.66 L279.00,384.17 L279.99,383.98 L280.98,383.77 L281.98,383.57 L282.97,383.36 L283.96,383.15 L284.95,382.95 L285.94,382.75 L286.93,382.55 L287.92,382.35 L288.92,382.16 L289.91,381.98 L290.90,381.80 L291.88,381.63 L292.85,381.47 L293.82,381.30 L294.80,381.14 L295.77,380.99 L296.75,380.83 L297.73,380.68 L298.70,380.54 L299.68,380.40 L300.65,380.26 L301.62,380.13 L302.60,380.00 L303.58,379.87 L304.57,379.75 L305.55,379.63 L306.54,379.51 L307.52,379.39 L308.51,379.28 L309.49,379.17 L310.48,379.06 L311.46,378.96 L312.45,378.86 L313.43,378.77 L314.42,378.68 L315.40,378.60 L316.37,378.52 L317.35,378.45 L318.32,378.37 L319.29,378.30 L320.27,378.23 L321.24,378.16 L322.21,378.09 L323.19,378.03 L324.16,377.97 L325.13,377.91 L326.11,377.86 L327.08,377.81 L328.05,377.77 L329.03,377.73 L330.00,377.70 L331.00,377.67 L332.00,377.64 L333.00,377.62 L334.00,377.59 L335.00,377.57 L336.00,377.54 L337.00,377.52 L338.00,377.50 L339.00,377.48 L340.00,377.47 L341.00,377.45 L342.00,377.44 L343.00,377.42 L344.00,377.41 L345.00,377.40 L346.00,377.39 L347.00,377.38 L348.00,377.37 L349.00,377.36 L350.00,377.36 L351.00,377.35 L352.00,377.34 L353.00,377.34 L354.00,377.33 L355.00,377.32 L356.00,377.32 L357.00,377.31 L358.00,377.31 L359.00,377.30 L360.00,377.30 L361.00,377.30 L362.00,377.29 L363.00,377.29 L364.00,377.28 L365.00,377.28 L366.00,377.28 L367.00,377.27 L368.00,377.27 L369.00,377.27 L370.00,377.26 L371.00,377.26 L372.00,377.26 L373.00,377.25 L374.00,377.25 L375.00,377.25 L376.00,377.24 L377.00,377.24 L378.00,377.24 L379.00,377.23 L380.00,377.23 L381.00,377.23 L382.00,377.23 L383.00,377.22 L384.00,377.22 L385.00,377.22 L386.00,377.22 L387.00,377.21 L388.00,377.21 L389.00,377.21 L390.00,377.21 L391.00,377.21 L392.00,377.21 L393.00,377.20 L394.00,377.20 L395.00,377.20 L396.00,377.20 L397.00,377.20 L398.00,377.20 L399.00,377.20 L400.00,377.20 L401.00,377.20 L402.00,377.20 L402.99,377.20 L403.99,377.20 L404.99,377.20 L405.99,377.20 L406.99,377.20 L407.99,377.20 L408.98,377.20 L409.98,377.20 L410.98,377.20 L411.98,377.20 L412.98,377.20 L413.97,377.20 L414.97,377.20 L415.97,377.20 L416.97,377.20 L417.97,377.20 L418.97,377.20 L419.96,377.20 L420.96,377.20 L421.96,377.20 L422.96,377.20 L423.96,377.20 L424.95,377.20 L425.95,377.20 L426.95,377.20 L427.95,377.20 L428.95,377.20 L429.95,377.20 L430.94,377.20 L431.94,377.20 L432.94,377.20 L433.94,377.20 L434.94,377.20 L435.93,377.20 L436.93,377.20 L437.93,377.20 L438.93,377.20 L439.93,377.20 L440.93,377.20 L441.92,377.20 L442.92,377.20 L443.92,377.20 L444.92,377.20 L445.92,377.20 L446.91,377.20 L447.91,377.20 L448.91,377.20 L449.91,377.20 L450.91,377.20 L451.91,377.20 L452.90,377.20 L453.90,377.20 L454.90,377.20 L455.90,377.20 L456.90,377.20 L457.89,377.20 L458.89,377.20 L459.89,377.20 L460.89,377.20 L461.89,377.20 L462.89,377.20 L463.88,377.20 L464.88,377.20 L465.88,377.20 L466.88,377.20 L467.88,377.20 L468.87,377.20 L469.87,377.20 L470.87,377.20 L471.87,377.20 L472.87,377.20 L473.86,377.20 L474.86,377.20 L475.86,377.20 L476.86,377.20 L477.86,377.20 L478.86,377.20 L479.85,377.20 L480.85,377.20 L481.85,377.20 L482.85,377.20 L483.85,377.20 L484.84,377.20 L485.84,377.20 L486.84,377.20 L487.84,377.20 L488.84,377.20 L489.84,377.20 L490.83,377.20 L491.83,377.20 L492.83,377.20 L493.83,377.20 L494.83,377.20 L495.82,377.20 L496.82,377.20 L497.82,377.20 L498.82,377.20 L499.82,377.20 L500.82,377.20 L501.81,377.20 L502.81,377.20 L503.81,377.20 L504.81,377.20 L505.81,377.20 L506.80,377.20 L507.80,377.20 L508.80,377.20 L509.80,377.20 L510.80,377.20 L511.80,377.20 L512.79,377.20 L513.79,377.20 L514.79,377.20 L515.79,377.20 L516.79,377.20 L517.78,377.20 L518.78,377.20 L519.78,377.20 L520.78,377.20 L521.78,377.20 L522.78,377.20 L523.77,377.20 L524.77,377.20 L525.77,377.20 L526.77,377.20 L527.77,377.20 L528.76,377.20 L529.76,377.20 L530.76,377.20 L531.76,377.20 L532.76,377.20 L533.76,377.20 L534.75,377.20 L535.75,377.20 L536.75,377.20 L537.75,377.20 L538.75,377.20 L539.74,377.20 L540.74,377.20 L541.74,377.20 L542.74,377.20 L543.74,377.20 L544.74,377.20 L545.73,377.20 L546.73,377.20 L547.73,377.20 L548.73,377.20 L549.73,377.20 L550.72,377.20 L551.72,377.20 L552.72,377.20 L553.72,377.20 L554.72,377.20 L555.72,377.20 L556.71,377.20 L557.71,377.20 L558.71,377.20 L559.71,377.20 L560.71,377.20 L561.70,377.20 L562.70,377.20 L563.70,377.20 L564.70,377.20 L565.70,377.20 L566.70,377.20 L567.69,377.20 L568.69,377.20 L569.69,377.20 L570.69,377.20 L571.69,377.20 L572.68,377.20 L573.68,377.20 L574.68,377.20 L575.68,377.20 L576.68,377.20 L577.68,377.20 L578.67,377.20 L579.67,377.20 L580.67,377.20 L581.67,377.20 L582.67,377.20 L583.66,377.20 L584.66,377.20 L585.66,377.20 L586.66,377.20 L587.66,377.20 L588.66,377.20 L589.65,377.20 L590.65,377.20 L591.65,377.20 L592.65,377.20 L593.65,377.20 L594.64,377.20 L595.64,377.20 L596.64,377.20 L597.64,377.20 L598.64,377.20 L599.64,377.20 L600.63,377.20 L601.63,377.20 L602.63,377.20 L603.63,377.20 L604.63,377.20 L605.62,377.20 L606.62,377.20 L607.62,377.20 L608.62,377.20 L609.62,377.20 L610.61,377.20 L611.61,377.20 L612.61,377.20 L613.61,377.20 L614.61,377.20 L615.61,377.20 L616.60,377.20 L617.60,377.20 L618.60,377.20 L619.60,377.20 L620.60,377.20 L621.59,377.20 L622.59,377.20 L623.59,377.20 L624.59,377.20 L625.59,377.20 L626.59,377.20 L627.58,377.20 L628.58,377.20 L629.58,377.20 L630.58,377.20 L631.58,377.20 L632.57,377.20 L633.57,377.20 L634.57,377.20 L635.57,377.20 L636.57,377.20 L637.57,377.20 L638.56,377.20 L639.56,377.20 L640.56,377.20 L641.56,377.20 L642.56,377.20 L643.55,377.20 L644.55,377.20 L645.55,377.20 L646.55,377.20 L647.55,377.20 L648.55,377.20 L649.54,377.20 L650.54,377.20 L651.54,377.20 L652.54,377.20 L653.54,377.20 L654.53,377.20 L655.53,377.20 L656.53,377.20 L657.53,377.20 L658.53,377.20 L659.53,377.20 L660.52,377.20 L661.52,377.20 L662.52,377.20 L663.52,377.20 L664.52,377.20 L665.51,377.20 L666.51,377.20 L667.51,377.20 L668.51,377.20 L669.51,377.20 L670.51,377.20 L671.50,377.20 L672.50,377.20 L673.50,377.20" stroke="#D95319" stroke-width="3.0" fill="none" stroke-dasharray="11.2 2.6 4.8 2.6" stroke-linejoin="round"/>
</g>
<text transform="translate(72.07,384.09) scale(1.0350,1.0000)" font-size="18.6" fill="#262626">0</text>
<text transform="translate(41.60,427.59) scale(1.0350,1.0000)" font-size="18.6" fill="#262626">-0.01</text>
<text transform="translate(41.60,471.12) scale(1.0350,1.0000)" font-size="18.6" fill="#262626">-0.02</text>
<text transform="translate(41.60,514.66) scale(1.0350,1.0000)" font-size="18.6" fill="#262626">-0.03</text>
<text transform="translate(41.60,558.20) scale(1.0350,1.0000)" font-size="18.6" fill="#262626">-0.04</text>
<text transform="translate(41.60,601.74) scale(1.0350,1.0000)" font-size="18.6" fill="#262626">-0.05</text>
<text transform="translate(84.71,640.47) scale(1.0900,1.0000)" font-size="18.3" fill="#262626">0</text>
<text transform="translate(176.53,640.47) scale(1.0900,1.0000)" font-size="18.3" fill="#262626">10</text>
<text transform="translate(274.28,640.47) scale(1.0900,1.0000)" font-size="18.3" fill="#262626">20</text>
<text transform="translate(371.53,640.47) scale(1.0900,1.0000)" font-size="18.3" fill="#262626">30</text>
<text transform="translate(469.10,640.47) scale(1.0900,1.0000)" font-size="18.3" fill="#262626">40</text>
<text transform="translate(566.03,640.47) scale(1.0900,1.0000)" font-size="18.3" fill="#262626">50</text>
<text transform="translate(663.48,640.47) scale(1.0900,1.0000)" font-size="18.3" fill="#262626">60</text>
<text transform="translate(335.00,664.17) scale(1.1560,1.0000)" font-size="18.8" fill="#262626">Time (sec)</text>
<rect x="418.6" y="571.8" width="254.89999999999998" height="44.700000000000045" fill="#fff" stroke="#3a3a3a" stroke-width="1.1"/>
<path d="M424.2,584.2H477.7" stroke="#000" stroke-width="3.0"/>
<path d="M424.2,604.6H477.7" stroke="#D95319" stroke-width="3.0" stroke-dasharray="11.2 2.6 4.8 2.6"/>
<text transform="translate(481.50,590.00) scale(1.1280,1.0000)" font-size="15.6" fill="#000">QOFBI FFOPID(1+FOPI)</text>
<text transform="translate(481.72,610.40) scale(1.1280,1.0000)" font-size="15.6" fill="#000">FBI FFOPID(1+FOPI)</text>
<clipPath id="cc"><rect x="75.8" y="760.5" width="590.8000000000001" height="235.79999999999995"/></clipPath>
<path d="M75.80,760.5V996.3 M174.27,760.5V996.3 M272.73,760.5V996.3 M371.20,760.5V996.3 M469.67,760.5V996.3 M568.13,760.5V996.3 M666.60,760.5V996.3" stroke="#262626" stroke-opacity="0.15" stroke-width="1" fill="none"/>
<path d="M75.8,770.80H666.6 M75.8,811.78H666.6 M75.8,852.76H666.6 M75.8,893.74H666.6 M75.8,934.72H666.6 M75.8,975.70H666.6" stroke="#262626" stroke-opacity="0.15" stroke-width="1" fill="none"/>
<path d="M75.80,996.3v-6.0 M75.80,760.5v6.0 M174.27,996.3v-6.0 M174.27,760.5v6.0 M272.73,996.3v-6.0 M272.73,760.5v6.0 M371.20,996.3v-6.0 M371.20,760.5v6.0 M469.67,996.3v-6.0 M469.67,760.5v6.0 M568.13,996.3v-6.0 M568.13,760.5v6.0 M666.60,996.3v-6.0 M666.60,760.5v6.0 M75.8,770.80h6.0 M666.6,770.80h-6.0 M75.8,811.78h6.0 M666.6,811.78h-6.0 M75.8,852.76h6.0 M666.6,852.76h-6.0 M75.8,893.74h6.0 M666.6,893.74h-6.0 M75.8,934.72h6.0 M666.6,934.72h-6.0 M75.8,975.70h6.0 M666.6,975.70h-6.0" stroke="#3a3a3a" stroke-width="1.1" fill="none"/>
<rect x="75.8" y="760.5" width="590.8000000000001" height="235.79999999999995" stroke="#3a3a3a" stroke-width="1.1" fill="none"/>
<g >
<path d="M76.20,770.80 L76.80,775.14 L77.40,780.00 L78.20,789.09 L79.00,800.00 L80.00,815.49 L81.00,832.00 L82.00,847.94 L83.00,864.00 L84.00,880.42 L85.00,897.00 L85.90,911.85 L86.80,927.00 L87.50,939.73 L88.20,952.00 L88.75,960.40 L89.30,968.00 L89.75,974.82 L90.20,978.70 L90.70,976.28 L91.20,972.00 L91.85,966.91 L92.50,961.00 L93.35,951.43 L94.20,940.00 L95.00,926.84 L95.80,912.80 L96.65,899.33 L97.50,885.50 L98.27,870.86 L99.03,855.33 L99.80,841.50 L100.60,829.82 L101.40,819.60 L102.25,809.06 L103.10,801.10 L104.00,795.99 L104.90,793.60 L105.85,795.33 L106.80,799.00 L107.70,804.41 L108.60,812.00 L109.40,820.11 L110.20,830.60 L110.75,840.82 L111.30,852.40 L111.85,863.30 L112.40,874.30 L113.20,891.68 L114.00,907.30 L114.85,919.49 L115.70,929.10 L116.40,935.56 L117.10,941.10 L117.80,945.50 L118.60,949.93 L119.40,952.20 L120.10,950.75 L120.80,947.33 L121.50,943.30 L122.30,938.39 L123.10,932.08 L123.90,923.70 L124.70,907.94 L125.50,890.60 L126.28,879.19 L127.05,869.35 L127.82,860.46 L128.60,851.90 L129.38,842.96 L130.15,834.07 L130.92,826.37 L131.70,821.00 L132.47,817.29 L133.23,814.38 L134.00,813.20 L134.78,814.65 L135.55,818.37 L136.32,823.37 L137.10,828.70 L137.88,835.00 L138.65,842.91 L139.42,851.47 L140.20,859.70 L140.97,867.51 L141.75,875.35 L142.53,883.10 L143.30,890.60 L144.08,898.04 L144.85,905.42 L145.62,912.37 L146.40,918.50 L147.40,926.45 L148.40,930.80 L149.27,927.68 L150.13,920.67 L151.00,913.30 L151.90,906.33 L152.80,898.91 L153.70,891.40 L154.43,885.24 L155.17,879.01 L155.90,872.90 L156.63,866.99 L157.37,861.20 L158.10,855.40 L158.83,848.93 L159.57,842.45 L160.30,837.90 L161.12,834.70 L161.95,831.99 L162.78,830.10 L163.60,829.40 L164.40,830.03 L165.20,831.69 L166.00,834.06 L166.80,836.80 L167.73,841.85 L168.67,849.08 L169.60,856.50 L170.50,863.27 L171.40,870.23 L172.30,877.20 L173.20,884.66 L174.10,892.14 L175.00,898.00 L175.93,902.78 L176.87,906.75 L177.80,908.40 L178.60,907.67 L179.40,905.77 L180.20,903.13 L181.00,900.20 L181.93,895.50 L182.87,889.20 L183.80,882.70 L184.70,876.39 L185.60,869.89 L186.50,864.10 L187.40,858.94 L188.30,854.29 L189.20,851.00 L190.05,848.86 L190.90,847.01 L191.75,845.70 L192.60,845.20 L193.43,845.62 L194.25,846.74 L195.07,848.31 L195.90,850.10 L196.77,852.89 L197.63,856.74 L198.50,860.60 L199.37,864.37 L200.23,868.16 L201.10,871.20 L201.88,873.38 L202.65,875.38 L203.42,876.92 L204.20,877.70 L204.93,877.96 L205.67,878.13 L206.40,878.20 L207.27,877.77 L208.13,876.75 L209.00,875.50 L209.82,874.01 L210.65,872.06 L211.48,869.87 L213.00,865.94 L214.00,863.53 L215.00,861.25 L216.00,859.10 L217.00,857.06 L218.00,855.15 L219.00,853.37 L220.00,851.71 L221.00,850.18 L222.00,848.78 L223.00,847.51 L224.00,846.34 L225.00,845.26 L226.00,844.25 L227.00,843.30 L228.00,842.39 L229.00,841.50 L230.00,840.61 L231.00,839.71 L232.00,838.78 L233.00,837.80 L234.00,836.76 L235.00,835.65 L236.00,834.49 L237.00,833.27 L238.00,832.01 L239.00,830.71 L240.00,829.39 L241.00,828.04 L242.00,826.69 L243.00,825.33 L244.00,823.97 L245.00,822.63 L246.00,821.30 L247.00,819.99 L248.00,818.71 L249.00,817.46 L250.00,816.23 L251.00,815.05 L252.00,813.90 L253.00,812.78 L254.00,811.69 L255.00,810.62 L256.00,809.58 L257.00,808.56 L258.00,807.56 L259.00,806.57 L260.00,805.60 L261.00,804.66 L262.00,803.73 L263.00,802.81 L264.00,801.92 L265.00,801.04 L266.00,800.19 L267.00,799.34 L268.00,798.52 L269.00,797.71 L270.00,796.92 L271.00,796.15 L272.00,795.40 L273.00,794.66 L274.00,793.93 L275.00,793.23 L276.00,792.54 L277.00,791.87 L278.00,791.22 L279.00,790.58 L280.00,789.97 L281.00,789.38 L282.00,788.80 L283.00,788.25 L284.00,787.72 L285.00,787.20 L286.00,786.72 L287.00,786.25 L288.00,785.80 L289.00,785.38 L290.00,784.98 L291.00,784.60 L292.00,784.23 L293.00,783.87 L294.00,783.52 L295.00,783.18 L296.00,782.83 L297.00,782.49 L298.00,782.14 L299.00,781.78 L300.00,781.42 L301.00,781.04 L302.00,780.65 L303.00,780.27 L304.00,779.89 L305.00,779.52 L306.00,779.17 L307.00,778.85 L308.00,778.56 L309.00,778.29 L310.00,778.04 L311.00,777.79 L312.00,777.56 L313.00,777.32 L314.00,777.09 L315.00,776.87 L316.00,776.65 L317.00,776.43 L318.00,776.22 L319.00,776.01 L320.00,775.81 L321.00,775.61 L322.00,775.42 L323.00,775.23 L324.00,775.05 L325.00,774.87 L326.00,774.69 L327.00,774.52 L328.00,774.35 L329.00,774.19 L330.00,774.03 L331.00,773.87 L332.00,773.72 L333.00,773.58 L334.00,773.43 L335.00,773.29 L336.00,773.16 L337.00,773.02 L338.00,772.90 L339.00,772.77 L340.00,772.65 L341.00,772.53 L342.00,772.42 L343.00,772.31 L344.00,772.20 L345.00,772.09 L346.00,771.99 L347.00,771.89 L348.00,771.80 L349.00,771.71 L350.00,771.62 L351.00,771.57 L352.00,771.51 L353.00,771.46 L354.00,771.40 L355.00,771.35 L356.00,771.29 L357.00,771.23 L358.00,771.18 L359.00,771.12 L360.00,771.07 L361.00,771.01 L362.00,770.96 L363.00,770.90 L364.00,770.85 L365.00,770.81 L366.00,770.76 L367.00,770.72 L368.00,770.67 L369.00,770.64 L370.00,770.60 L371.00,770.57 L372.00,770.54 L373.00,770.50 L374.00,770.48 L375.00,770.45 L376.00,770.42 L377.00,770.39 L378.00,770.37 L379.00,770.34 L380.00,770.32 L381.00,770.29 L382.00,770.27 L383.00,770.25 L384.00,770.23 L385.00,770.20 L386.00,770.18 L387.00,770.16 L388.00,770.14 L389.00,770.12 L390.00,770.10 L391.00,770.08 L392.00,770.06 L393.00,770.04 L394.00,770.02 L395.00,770.00 L396.00,769.98 L397.00,769.96 L398.00,769.94 L399.00,769.93 L400.00,769.91 L401.00,769.89 L402.00,769.87 L403.00,769.86 L404.00,769.84 L405.00,769.82 L406.00,769.80 L407.00,769.79 L408.00,769.77 L409.00,769.76 L410.00,769.74 L411.00,769.73 L412.00,769.71 L413.00,769.70 L414.00,769.68 L415.00,769.67 L416.00,769.65 L417.00,769.64 L418.00,769.63 L419.00,769.61 L420.00,769.60 L421.00,769.59 L422.00,769.57 L423.00,769.56 L424.00,769.55 L425.00,769.54 L426.00,769.52 L427.00,769.51 L428.00,769.50 L429.00,769.49 L430.00,769.48 L431.00,769.46 L432.00,769.45 L433.00,769.44 L434.00,769.43 L435.00,769.42 L436.00,769.41 L437.00,769.40 L438.00,769.38 L439.00,769.37 L440.00,769.36 L441.00,769.35 L442.00,769.34 L443.00,769.33 L444.00,769.32 L445.00,769.31 L446.00,769.30 L447.00,769.29 L448.00,769.28 L449.00,769.28 L450.00,769.27 L451.00,769.26 L452.00,769.25 L453.00,769.24 L454.00,769.24 L455.00,769.23 L456.00,769.22 L457.00,769.22 L458.00,769.21 L459.00,769.21 L460.00,769.20 L461.00,769.19 L462.00,769.19 L463.00,769.18 L464.00,769.18 L465.00,769.17 L466.00,769.17 L467.00,769.17 L468.00,769.16 L469.00,769.16 L470.00,769.15 L471.00,769.15 L472.00,769.14 L473.00,769.14 L474.00,769.13 L475.00,769.13 L476.00,769.12 L477.00,769.12 L478.00,769.12 L479.00,769.11 L480.00,769.11 L481.00,769.10 L482.00,769.10 L483.00,769.10 L484.00,769.09 L485.00,769.09 L486.00,769.08 L487.00,769.08 L488.00,769.08 L489.00,769.07 L490.00,769.07 L491.00,769.07 L492.00,769.06 L493.00,769.06 L494.00,769.06 L495.00,769.05 L496.00,769.05 L497.00,769.05 L498.00,769.05 L499.00,769.04 L500.00,769.04 L501.00,769.04 L502.00,769.03 L503.00,769.03 L504.00,769.03 L505.00,769.03 L506.00,769.02 L507.00,769.02 L508.00,769.02 L509.00,769.02 L510.00,769.02 L511.00,769.01 L512.00,769.01 L513.00,769.01 L514.00,769.01 L515.00,769.01 L516.00,769.01 L517.00,769.00 L518.00,769.00 L519.00,769.00 L520.00,769.00 L521.00,769.00 L521.99,769.00 L522.99,769.00 L523.99,769.00 L524.99,768.99 L525.98,768.99 L526.98,768.99 L527.98,768.99 L528.98,768.99 L529.97,768.99 L530.97,768.99 L531.97,768.99 L532.96,768.99 L533.96,768.98 L534.96,768.98 L535.96,768.98 L536.95,768.98 L537.95,768.98 L538.95,768.98 L539.95,768.98 L540.94,768.98 L541.94,768.98 L542.94,768.98 L543.93,768.97 L544.93,768.97 L545.93,768.97 L546.93,768.97 L547.92,768.97 L548.92,768.97 L549.92,768.97 L550.92,768.97 L551.91,768.97 L552.91,768.97 L553.91,768.97 L554.90,768.96 L555.90,768.96 L556.90,768.96 L557.90,768.96 L558.89,768.96 L559.89,768.96 L560.89,768.96 L561.89,768.96 L562.88,768.96 L563.88,768.96 L564.88,768.96 L565.87,768.96 L566.87,768.96 L567.87,768.96 L568.87,768.95 L569.86,768.95 L570.86,768.95 L571.86,768.95 L572.86,768.95 L573.85,768.95 L574.85,768.95 L575.85,768.95 L576.84,768.95 L577.84,768.95 L578.84,768.95 L579.84,768.95 L580.83,768.95 L581.83,768.95 L582.83,768.95 L583.83,768.94 L584.82,768.94 L585.82,768.94 L586.82,768.94 L587.81,768.94 L588.81,768.94 L589.81,768.94 L590.81,768.94 L591.80,768.94 L592.80,768.94 L593.80,768.94 L594.80,768.94 L595.79,768.94 L596.79,768.94 L597.79,768.94 L598.79,768.94 L599.78,768.94 L600.78,768.94 L601.78,768.94 L602.77,768.93 L603.77,768.93 L604.77,768.93 L605.77,768.93 L606.76,768.93 L607.76,768.93 L608.76,768.93 L609.76,768.93 L610.75,768.93 L611.75,768.93 L612.75,768.93 L613.74,768.93 L614.74,768.93 L615.74,768.93 L616.74,768.93 L617.73,768.93 L618.73,768.93 L619.73,768.93 L620.73,768.93 L621.72,768.93 L622.72,768.92 L623.72,768.92 L624.71,768.92 L625.71,768.92 L626.71,768.92 L627.71,768.92 L628.70,768.92 L629.70,768.92 L630.70,768.92 L631.70,768.92 L632.69,768.92 L633.69,768.92 L634.69,768.92 L635.68,768.92 L636.68,768.92 L637.68,768.92 L638.68,768.92 L639.67,768.92 L640.67,768.92 L641.67,768.92 L642.67,768.91 L643.66,768.91 L644.66,768.91 L645.66,768.91 L646.65,768.91 L647.65,768.91 L648.65,768.91 L649.65,768.91 L650.64,768.91 L651.64,768.91 L652.64,768.91 L653.64,768.91 L654.63,768.91 L655.63,768.91 L656.63,768.91 L657.62,768.91 L658.62,768.91 L659.62,768.90 L660.62,768.90 L661.61,768.90 L662.61,768.90 L663.61,768.90 L664.61,768.90 L665.60,768.90 L666.60,768.90" stroke="#000" stroke-width="3.0" fill="none" stroke-linejoin="round"/>
<path d="M76.20,770.80 L76.80,775.14 L77.40,780.00 L78.20,789.09 L79.00,800.00 L80.00,815.49 L81.00,832.00 L82.00,847.94 L83.00,864.00 L84.00,880.42 L85.00,897.00 L85.90,911.69 L86.80,927.00 L87.60,942.15 L88.40,958.00 L88.95,969.71 L89.50,980.00 L90.05,988.30 L90.60,992.60 L91.20,990.37 L91.80,986.00 L92.30,981.47 L92.80,976.00 L93.60,967.08 L94.40,956.40 L95.20,940.83 L96.00,923.70 L96.73,910.15 L97.47,897.17 L98.20,884.00 L99.05,867.86 L99.90,852.00 L100.70,837.92 L101.50,825.00 L102.25,813.81 L103.00,805.00 L103.80,798.29 L104.60,795.00 L105.55,796.60 L106.50,800.00 L107.45,805.32 L108.40,813.00 L109.20,821.39 L110.00,832.00 L110.60,841.90 L111.20,853.00 L111.80,864.45 L112.40,876.00 L113.20,890.94 L114.00,905.00 L114.90,919.24 L115.80,932.00 L116.65,942.66 L117.50,952.00 L118.00,956.86 L118.50,961.00 L118.95,964.51 L119.40,966.40 L119.95,964.55 L120.50,961.00 L121.15,956.08 L121.80,950.00 L122.50,942.71 L123.20,934.42 L123.90,925.00 L124.80,909.30 L125.70,893.00 L126.67,878.43 L127.63,865.08 L128.60,853.00 L129.60,840.93 L130.60,829.85 L131.60,822.00 L132.33,818.01 L133.07,814.81 L133.80,813.50 L134.60,814.95 L135.40,818.67 L136.20,823.67 L137.00,829.00 L137.80,835.25 L138.60,843.08 L139.40,851.63 L140.20,860.00 L140.97,867.78 L141.75,875.67 L142.53,883.72 L143.30,892.00 L144.03,900.01 L144.77,908.27 L145.50,917.00 L146.25,927.44 L147.00,937.00 L147.70,944.34 L148.40,948.20 L149.10,945.45 L149.80,940.00 L150.65,930.81 L151.50,920.00 L152.23,911.44 L152.97,902.98 L153.70,895.00 L154.47,887.26 L155.23,879.94 L156.00,873.00 L156.73,866.70 L157.47,860.71 L158.20,855.00 L158.90,849.47 L159.60,844.16 L160.30,840.00 L161.20,835.74 L162.10,832.25 L163.00,830.80 L163.82,831.97 L164.65,834.97 L165.48,839.04 L166.30,843.40 L167.20,849.25 L168.10,856.61 L169.00,864.10 L169.90,871.34 L170.80,878.72 L171.70,886.00 L172.63,893.37 L173.57,900.64 L174.50,907.80 L175.23,913.85 L175.97,919.83 L176.70,924.20 L177.25,926.47 L177.80,927.60 L178.53,926.79 L179.27,924.73 L180.00,922.00 L180.70,917.65 L181.40,911.24 L182.10,904.50 L182.83,897.29 L183.57,889.65 L184.30,882.70 L185.03,876.64 L185.77,871.09 L186.50,866.30 L187.40,861.15 L188.30,856.65 L189.20,853.20 L190.03,850.58 L190.87,848.41 L191.70,847.50 L192.50,848.33 L193.30,850.33 L194.10,852.80 L195.00,856.54 L195.90,861.55 L196.80,866.80 L197.67,871.96 L198.53,877.38 L199.40,882.50 L200.27,887.42 L201.13,892.09 L202.00,895.70 L202.78,898.26 L203.55,900.61 L204.32,902.33 L205.10,903.00 L206.10,902.43 L207.10,901.02 L208.10,899.20 L209.00,896.74 L209.90,893.27 L210.80,889.50 L211.67,885.48 L212.53,881.10 L213.40,877.30 L214.28,874.12 L215.15,871.20 L216.03,868.69 L216.90,866.80 L217.78,865.26 L218.66,863.83 L219.54,862.63 L220.42,861.81 L221.30,861.50 L222.18,861.77 L223.06,862.44 L223.94,863.32 L224.82,864.24 L225.70,865.00 L226.56,865.67 L227.42,866.38 L228.28,867.04 L229.14,867.52 L230.00,867.70 L230.88,867.52 L231.76,867.07 L232.64,866.43 L233.52,865.70 L234.40,865.00 L235.30,864.31 L236.20,863.56 L237.10,862.68 L238.40,861.06 L239.40,859.72 L240.40,858.37 L241.40,857.01 L242.40,855.66 L243.40,854.30 L244.40,852.93 L245.40,851.57 L246.40,850.20 L247.40,848.83 L248.40,847.46 L249.40,846.10 L250.40,844.73 L251.40,843.37 L252.40,842.02 L253.40,840.66 L254.40,839.31 L255.40,837.97 L256.40,836.63 L257.40,835.30 L258.40,833.98 L259.40,832.66 L260.40,831.36 L261.40,830.06 L262.40,828.77 L263.40,827.49 L264.40,826.22 L265.40,824.97 L266.40,823.73 L267.40,822.49 L268.40,821.28 L269.40,820.07 L270.40,818.88 L271.40,817.71 L272.40,816.55 L273.40,815.41 L274.40,814.28 L275.40,813.17 L276.40,812.08 L277.40,811.01 L278.40,809.96 L279.40,808.93 L280.40,807.92 L281.40,806.92 L282.40,805.96 L283.40,805.01 L284.40,804.08 L285.40,803.18 L286.40,802.30 L287.40,801.45 L288.40,800.61 L289.40,799.80 L290.40,799.01 L291.40,798.24 L292.40,797.49 L293.40,796.75 L294.40,796.04 L295.40,795.35 L296.40,794.68 L297.40,794.02 L298.40,793.38 L299.40,792.76 L300.40,792.16 L301.40,791.57 L302.40,791.01 L303.40,790.45 L304.40,789.91 L305.40,789.39 L306.40,788.88 L307.40,788.39 L308.40,787.91 L309.40,787.44 L310.40,786.99 L311.40,786.55 L312.40,786.12 L313.40,785.70 L314.40,785.30 L315.40,784.91 L316.40,784.53 L317.40,784.15 L318.40,783.79 L319.40,783.44 L320.40,783.10 L321.40,782.76 L322.40,782.44 L323.40,782.12 L324.40,781.81 L325.40,781.51 L326.40,781.22 L327.40,780.93 L328.40,780.64 L329.40,780.37 L330.40,780.10 L331.40,779.84 L332.40,779.58 L333.40,779.33 L334.40,779.08 L335.40,778.84 L336.40,778.61 L337.40,778.38 L338.40,778.16 L339.40,777.94 L340.40,777.73 L341.40,777.52 L342.40,777.32 L343.40,777.12 L344.40,776.93 L345.40,776.75 L346.40,776.57 L347.40,776.39 L348.40,776.22 L350.00,775.96 L351.00,775.85 L352.00,775.74 L353.00,775.62 L354.00,775.51 L355.00,775.39 L356.00,775.27 L357.00,775.15 L358.00,775.04 L359.00,774.92 L360.00,774.80 L361.00,774.69 L362.00,774.57 L363.00,774.46 L364.00,774.36 L365.00,774.25 L366.00,774.15 L367.00,774.06 L368.00,773.97 L369.00,773.88 L370.00,773.80 L371.00,773.72 L372.00,773.65 L373.00,773.58 L374.00,773.50 L375.00,773.43 L376.00,773.37 L377.00,773.30 L378.00,773.23 L379.00,773.17 L380.00,773.11 L381.00,773.05 L382.00,772.99 L383.00,772.94 L384.00,772.88 L385.00,772.83 L386.00,772.78 L387.00,772.73 L388.00,772.69 L389.00,772.64 L390.00,772.60 L391.00,772.56 L392.00,772.52 L393.00,772.48 L394.00,772.44 L395.00,772.41 L396.00,772.37 L397.00,772.34 L398.00,772.30 L399.00,772.27 L400.00,772.24 L401.00,772.21 L402.00,772.18 L403.00,772.15 L404.00,772.12 L405.00,772.09 L406.00,772.06 L407.00,772.03 L408.00,772.00 L409.00,771.98 L410.00,771.95 L411.00,771.92 L412.00,771.90 L413.00,771.87 L414.00,771.85 L415.00,771.82 L416.00,771.80 L417.00,771.77 L418.00,771.75 L419.00,771.72 L420.00,771.70 L421.00,771.68 L422.00,771.65 L423.00,771.63 L424.00,771.60 L425.00,771.58 L426.00,771.56 L427.00,771.53 L428.00,771.51 L429.00,771.49 L430.00,771.46 L431.00,771.44 L432.00,771.42 L433.00,771.40 L434.00,771.37 L435.00,771.35 L436.00,771.33 L437.00,771.31 L438.00,771.29 L439.00,771.27 L440.00,771.25 L441.00,771.23 L442.00,771.21 L443.00,771.19 L444.00,771.17 L445.00,771.15 L446.00,771.13 L447.00,771.11 L448.00,771.09 L449.00,771.07 L450.00,771.06 L451.00,771.04 L452.00,771.02 L453.00,771.01 L454.00,770.99 L455.00,770.97 L456.00,770.96 L457.00,770.94 L458.00,770.93 L459.00,770.91 L460.00,770.90 L461.00,770.89 L462.00,770.87 L463.00,770.86 L464.00,770.85 L465.00,770.83 L466.00,770.82 L467.00,770.81 L468.00,770.80 L469.00,770.78 L470.00,770.77 L471.00,770.76 L472.00,770.75 L473.00,770.73 L474.00,770.72 L475.00,770.71 L476.00,770.70 L477.00,770.69 L478.00,770.68 L479.00,770.66 L480.00,770.65 L481.00,770.64 L482.00,770.63 L483.00,770.62 L484.00,770.61 L485.00,770.60 L486.00,770.59 L487.00,770.58 L488.00,770.57 L489.00,770.56 L490.00,770.55 L491.00,770.54 L492.00,770.53 L493.00,770.52 L494.00,770.51 L495.00,770.50 L496.00,770.49 L497.00,770.48 L498.00,770.47 L499.00,770.46 L500.00,770.46 L501.00,770.45 L502.00,770.44 L503.00,770.43 L504.00,770.42 L505.00,770.41 L506.00,770.40 L507.00,770.40 L508.00,770.39 L509.00,770.38 L510.00,770.37 L511.00,770.37 L512.00,770.36 L513.00,770.35 L514.00,770.34 L515.00,770.34 L516.00,770.33 L517.00,770.32 L518.00,770.31 L519.00,770.31 L520.00,770.30 L521.00,770.29 L521.99,770.29 L522.99,770.28 L523.99,770.27 L524.99,770.27 L525.98,770.26 L526.98,770.25 L527.98,770.25 L528.98,770.24 L529.97,770.23 L530.97,770.23 L531.97,770.22 L532.96,770.22 L533.96,770.21 L534.96,770.20 L535.96,770.20 L536.95,770.19 L537.95,770.19 L538.95,770.18 L539.95,770.17 L540.94,770.17 L541.94,770.16 L542.94,770.16 L543.93,770.15 L544.93,770.15 L545.93,770.14 L546.93,770.14 L547.92,770.13 L548.92,770.12 L549.92,770.12 L550.92,770.11 L551.91,770.11 L552.91,770.10 L553.91,770.10 L554.90,770.09 L555.90,770.09 L556.90,770.08 L557.90,770.08 L558.89,770.07 L559.89,770.07 L560.89,770.06 L561.89,770.06 L562.88,770.05 L563.88,770.05 L564.88,770.04 L565.87,770.04 L566.87,770.03 L567.87,770.03 L568.87,770.02 L569.86,770.02 L570.86,770.01 L571.86,770.01 L572.86,770.00 L573.85,770.00 L574.85,769.99 L575.85,769.99 L576.84,769.99 L577.84,769.98 L578.84,769.98 L579.84,769.97 L580.83,769.97 L581.83,769.96 L582.83,769.96 L583.83,769.95 L584.82,769.95 L585.82,769.95 L586.82,769.94 L587.81,769.94 L588.81,769.93 L589.81,769.93 L590.81,769.92 L591.80,769.92 L592.80,769.92 L593.80,769.91 L594.80,769.91 L595.79,769.90 L596.79,769.90 L597.79,769.89 L598.79,769.89 L599.78,769.89 L600.78,769.88 L601.78,769.88 L602.77,769.87 L603.77,769.87 L604.77,769.86 L605.77,769.86 L606.76,769.86 L607.76,769.85 L608.76,769.85 L609.76,769.84 L610.75,769.84 L611.75,769.84 L612.75,769.83 L613.74,769.83 L614.74,769.82 L615.74,769.82 L616.74,769.82 L617.73,769.81 L618.73,769.81 L619.73,769.80 L620.73,769.80 L621.72,769.79 L622.72,769.79 L623.72,769.79 L624.71,769.78 L625.71,769.78 L626.71,769.77 L627.71,769.77 L628.70,769.77 L629.70,769.76 L630.70,769.76 L631.70,769.75 L632.69,769.75 L633.69,769.75 L634.69,769.74 L635.68,769.74 L636.68,769.73 L637.68,769.73 L638.68,769.72 L639.67,769.72 L640.67,769.72 L641.67,769.71 L642.67,769.71 L643.66,769.70 L644.66,769.70 L645.66,769.69 L646.65,769.69 L647.65,769.69 L648.65,769.68 L649.65,769.68 L650.64,769.67 L651.64,769.67 L652.64,769.66 L653.64,769.66 L654.63,769.66 L655.63,769.65 L656.63,769.65 L657.62,769.64 L658.62,769.64 L659.62,769.63 L660.62,769.63 L661.61,769.62 L662.61,769.62 L663.61,769.61 L664.61,769.61 L665.60,769.60 L666.60,769.60" stroke="#D95319" stroke-width="3.0" fill="none" stroke-dasharray="11.2 2.6 4.8 2.6" stroke-linejoin="round"/>
</g>
<text transform="translate(58.02,777.76) scale(1.0400,1.0000)" font-size="18.8" fill="#262626">0</text>
<text transform="translate(51.51,818.81) scale(1.0400,1.0000)" font-size="18.8" fill="#262626">-2</text>
<text transform="translate(51.51,859.74) scale(1.0400,1.0000)" font-size="18.8" fill="#262626">-4</text>
<text transform="translate(51.51,900.67) scale(1.0400,1.0000)" font-size="18.8" fill="#262626">-6</text>
<text transform="translate(51.51,941.68) scale(1.0400,1.0000)" font-size="18.8" fill="#262626">-8</text>
<text transform="translate(41.74,982.66) scale(1.0400,1.0000)" font-size="18.8" fill="#262626">-10</text>
<text transform="translate(70.81,1020.37) scale(1.0900,1.0000)" font-size="18.3" fill="#262626">0</text>
<text transform="translate(163.79,1020.37) scale(1.0900,1.0000)" font-size="18.3" fill="#262626">10</text>
<text transform="translate(262.71,1020.37) scale(1.0900,1.0000)" font-size="18.3" fill="#262626">20</text>
<text transform="translate(361.13,1020.37) scale(1.0900,1.0000)" font-size="18.3" fill="#262626">30</text>
<text transform="translate(459.87,1020.37) scale(1.0900,1.0000)" font-size="18.3" fill="#262626">40</text>
<text transform="translate(557.96,1020.37) scale(1.0900,1.0000)" font-size="18.3" fill="#262626">50</text>
<text transform="translate(656.58,1020.37) scale(1.0900,1.0000)" font-size="18.3" fill="#262626">60</text>
<text transform="translate(324.60,1044.57) scale(1.1560,1.0000)" font-size="18.8" fill="#262626">Time (sec)</text>
<rect x="415.2" y="950.9" width="251.40000000000003" height="45.39999999999998" fill="#fff" stroke="#3a3a3a" stroke-width="1.1"/>
<path d="M420.5,963.4H473.1" stroke="#000" stroke-width="3.0"/>
<path d="M420.5,983.9H473.1" stroke="#D95319" stroke-width="3.0" stroke-dasharray="11.2 2.6 4.8 2.6"/>
<text transform="translate(476.80,969.20) scale(1.1150,1.0000)" font-size="15.6" fill="#000">QOFBI FFOPID(1+FOPI)</text>
<text transform="translate(477.02,989.70) scale(1.1150,1.0000)" font-size="15.6" fill="#000">FBI FFOPID(1+FOPI)</text>
<text transform="translate(18.10,141.29) rotate(-90) scale(1.1894,1.2197)" font-size="20" fill="#262626">Δ</text>
<text transform="translate(18.10,119.97) rotate(-90) scale(0.8629,1.0916)" font-size="20" fill="#262626">F</text>
<text transform="translate(28.90,109.62) rotate(-90) scale(0.5816,0.8712)" font-size="20" fill="#262626">1</text>
<text transform="translate(20.80,511.03) rotate(-90) scale(1.2335,1.1742)" font-size="20" fill="#262626">Δ</text>
<text transform="translate(20.80,489.65) rotate(-90) scale(1.0051,1.0992)" font-size="20" fill="#262626">F</text>
<text transform="translate(31.30,479.34) rotate(-90) scale(0.8696,0.8604)" font-size="20" fill="#262626">2</text>
<text transform="translate(22.00,902.41) rotate(-90) scale(1.2159,1.1667)" font-size="20" fill="#262626">Δ</text>
<text transform="translate(22.30,880.09) rotate(-90) scale(0.8878,1.0763)" font-size="20" fill="#262626">P</text>
<text transform="translate(32.73,869.45) rotate(-90) scale(0.7749,0.8625)" font-size="20" fill="#262626">tie</text>
<text transform="translate(76.62,759.28) scale(1.2346,1.0675)" font-size="20" fill="#262626" >×</text>
<text transform="translate(92.68,756.82) scale(0.9257,0.9111)" font-size="20" fill="#262626" >10</text>
<text transform="translate(111.25,748.46) scale(0.7285,0.6840)" font-size="20" fill="#262626" >-3</text>
<text transform="translate(329.77,331.83) scale(1.0200,1.0000)" font-size="18.6" fill="#000">(a)</text>
<text transform="translate(329.15,709.53) scale(1.0200,1.0000)" font-size="18.6" fill="#000">(b)</text>
<text transform="translate(329.67,1091.63) scale(1.0200,1.0000)" font-size="18.6" fill="#000">(c)</text>
</svg></body></html>
